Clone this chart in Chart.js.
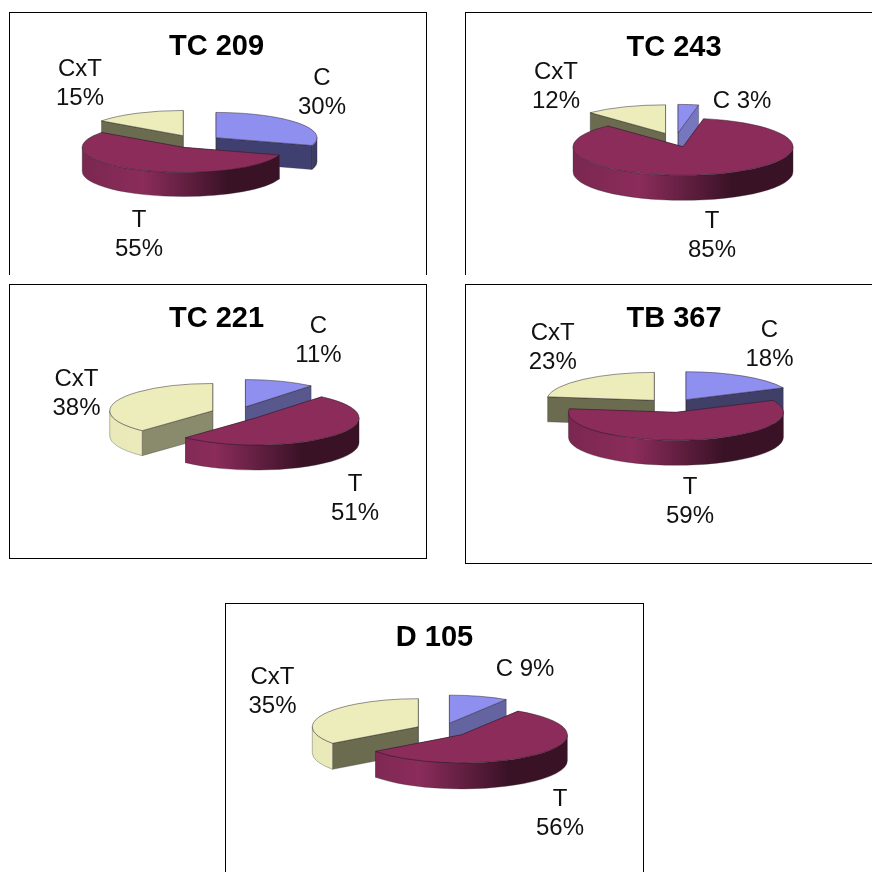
<!DOCTYPE html>
<html>
<head>
<meta charset="utf-8">
<title>Pie panels</title>
<script src="https://cdn.jsdelivr.net/npm/chart.js@4/dist/chart.umd.min.js"></script>
<style>
  html, body { margin: 0; width: 872px; height: 872px; overflow: hidden; background: #fff; }
  .box { position: absolute; box-sizing: border-box; border: 1px solid #000; }
  .box.open { border-bottom: none; }
  canvas { position: absolute; }
</style>
</head>
<body>
<script>
// values of each clone, in percent
const categories = ['C', 'T', 'CxT'];
const tc209 = [30, 55, 15];
const tc243 = [3, 85, 12];
const tc221 = [11, 51, 38];
const tb367 = [18, 59, 23];
const d105 = [9, 56, 35];

// slice colours
const sliceRgb = [[143, 143, 239], [139, 44, 91], [237, 237, 188]];

// placement of every panel, page pixels
const panels = [
  { title: 'TC 209', values: tc209, box: [9, 12, 418, 263], open: true, titleY: 56, padRight: 3,
    cx: 195, cy: 141.5, r: 101, tilt: 0.25, depth: 24, explode: 26,
    faces: ['#3f3f70', '#8b2c5b', '#6b6b50'],
    labels: [[322, 85, 2], [139, 227, 2], [80, 76, 2]] },
  { title: 'TC 243', values: tc243, box: [465, 12, 418, 263], open: true, titleY: 57, padRight: 0,
    cx: 675.5, cy: 140, r: 110, tilt: 0.26, depth: 25, explode: 27,
    faces: ['#7777c0', '#8b2c5b', '#6b6b50'],
    labels: [[742, 108, 1], [712, 228, 2], [556, 79, 2]] },
  { title: 'TC 221', values: tc221, box: [9, 284, 418, 275], open: false, titleY: 328, padRight: 3,
    cx: 236.7, cy: 413.3, r: 103, tilt: 0.265, depth: 25, explode: 25.8,
    faces: ['#58588f', '#8b2c5b', '#8a8a6c'],
    labels: [[318.5, 333, 2], [355, 491, 2], [76.5, 386, 2]] },
  { title: 'TB 367', values: tb367, box: [465, 284, 418, 280], open: false, titleY: 328, padRight: 0,
    cx: 671.8, cy: 405.5, r: 107.5, tilt: 0.26, depth: 25, explode: 26.5,
    faces: ['#3f3f68', '#8b2c5b', '#6b6b50'],
    labels: [[769.5, 337, 2], [690, 494, 2], [552.7, 340, 2]] },
  { title: 'D 105', values: d105, box: [225, 603, 419, 280], open: true, titleY: 647, padRight: 0,
    cx: 442, cy: 730, r: 106, tilt: 0.265, depth: 26, explode: 26.6,
    faces: ['#6464a0', '#8b2c5b', '#6b6b50'],
    labels: [[525, 676, 1], [560, 806, 2], [272.5, 684, 2]] }
];

const rgb = (c, f) => `rgb(${c.map(v => Math.round(v * f)).join(',')})`;
const labelFont = '24px "Liberation Sans", Arial, sans-serif';

// squashes the pie into an ellipse and extrudes each slice downwards
function tiltPlugin(p) {
  const originX = p.box[0], originY = p.box[1];
  const cx = p.cx - originX, cy = p.cy - originY;

  const centreOf = arc => {
    const mid = (arc.startAngle + arc.endAngle) / 2;
    return [arc.x + Math.cos(mid) * p.explode, arc.y + Math.sin(mid) * p.explode * p.tilt];
  };

  function drawWalls(ctx, arc, i) {
    const [x, y] = centreOf(arc);
    const r = arc.outerRadius, ry = r * p.tilt, h = p.depth;
    const edge = [arc.endAngle, arc.startAngle];
    ctx.lineWidth = 0.7;
    ctx.strokeStyle = 'rgba(40,40,40,.45)';

    // cut faces
    edge.forEach(a => {
      const ex = x + Math.cos(a) * r, ey = y + Math.sin(a) * ry;
      ctx.beginPath();
      ctx.moveTo(x, y);
      ctx.lineTo(ex, ey);
      ctx.lineTo(ex, ey + h);
      ctx.lineTo(x, y + h);
      ctx.closePath();
      ctx.fillStyle = p.faces[i];
      ctx.fill();
      ctx.stroke();
    });

    // outer rim, only the part facing the viewer
    const a0 = Math.max(arc.startAngle, 0), a1 = Math.min(arc.endAngle, Math.PI);
    if (a1 > a0) {
      const grad = ctx.createLinearGradient(x - r, 0, x + r, 0);
      grad.addColorStop(0, rgb(sliceRgb[i], i === 2 ? 0.98 : 0.88));
      grad.addColorStop(0.3, rgb(sliceRgb[i], 1));
      grad.addColorStop(0.72, rgb(sliceRgb[i], 0.42));
      grad.addColorStop(1, rgb(sliceRgb[i], 0.42));
      ctx.beginPath();
      ctx.ellipse(x, y, r, ry, 0, a0, a1);
      ctx.ellipse(x, y + h, r, ry, 0, a1, a0, true);
      ctx.closePath();
      ctx.fillStyle = grad;
      ctx.fill();
      ctx.stroke();
    }
  }

  function drawTop(ctx, arc) {
    const mid = (arc.startAngle + arc.endAngle) / 2;
    ctx.save();
    ctx.translate(0, cy);
    ctx.scale(1, p.tilt);
    ctx.translate(0, -cy);
    ctx.translate(Math.cos(mid) * p.explode, Math.sin(mid) * p.explode);
    arc.draw(ctx);
    ctx.restore();

    const [x, y] = centreOf(arc);
    const r = arc.outerRadius;
    ctx.beginPath();
    ctx.moveTo(x, y);
    ctx.ellipse(x, y, r, r * p.tilt, 0, arc.startAngle, arc.endAngle);
    ctx.closePath();
    ctx.lineWidth = 0.8;
    ctx.strokeStyle = 'rgba(35,25,35,.6)';
    ctx.stroke();
  }

  return {
    id: 'tilt3d',
    afterLayout(chart) {
      // the pie centre is set by hand, the radius comes from the dataset
      chart.chartArea = { left: cx - 400, right: cx + 400, top: cy - 400, bottom: cy + 400, width: 800, height: 800 };
    },
    beforeDatasetDraw(chart) {
      const ctx = chart.ctx;
      const arcs = chart.getDatasetMeta(0).data;
      const order = arcs.map((arc, i) => ({ arc, i })).sort((a, b) => centreOf(a.arc)[1] - centreOf(b.arc)[1]);
      order.forEach(o => drawWalls(ctx, o.arc, o.i));
      order.forEach(o => drawTop(ctx, o.arc));
      return false;
    },
    afterDraw(chart) {
      const ctx = chart.ctx;
      ctx.save();
      ctx.font = labelFont;
      ctx.fillStyle = '#111';
      ctx.textAlign = 'center';
      ctx.textBaseline = 'alphabetic';
      p.labels.forEach((l, i) => {
        const pct = p.values[i] + '%';
        const x = l[0] - originX, y = l[1] - originY;
        if (l[2] === 1) {
          ctx.fillText(categories[i] + ' ' + pct, x, y);
        } else {
          ctx.fillText(categories[i], x, y);
          ctx.fillText(pct, x, y + 29);
        }
      });
      ctx.restore();
    }
  };
}

panels.forEach(p => {
  const [left, top, w, h] = p.box;
  const frame = document.createElement('div');
  frame.className = p.open ? 'box open' : 'box';
  frame.style.cssText = `left:${left}px;top:${top}px;width:${w}px;height:${h}px`;
  document.body.appendChild(frame);

  const canvas = document.createElement('canvas');
  canvas.width = w;
  canvas.height = h;
  canvas.style.cssText = `left:${left}px;top:${top}px`;
  document.body.appendChild(canvas);

  new Chart(canvas.getContext('2d'), {
    type: 'pie',
    data: {
      labels: categories,
      datasets: [{
        data: p.values,
        backgroundColor: sliceRgb.map(c => rgb(c, 1)),
        borderWidth: 0,
        radius: p.r
      }]
    },
    options: {
      responsive: false,
      animation: false,
      layout: { padding: { right: p.padRight } },
      events: [],
      plugins: {
        legend: { display: false },
        tooltip: { enabled: false },
        title: {
          display: true,
          text: p.title,
          color: '#000',
          font: { family: '"Liberation Sans", Arial, sans-serif', size: 29, weight: 'bold', lineHeight: 1.2 },
          padding: { top: p.titleY - top - 10 - 17.4 + 1, bottom: 0 }
        }
      }
    },
    plugins: [tiltPlugin(p)]
  });
});
</script>
</body>
</html>
